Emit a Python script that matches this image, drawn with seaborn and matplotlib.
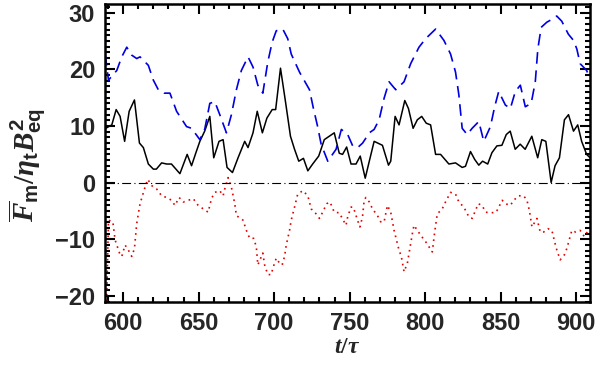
import numpy as np
import pandas as pd
import matplotlib
matplotlib.use("Agg")
import matplotlib.pyplot as plt
from matplotlib.ticker import MultipleLocator
import seaborn as sns

# black solid curve
t_black = [588.5, 592.5, 595.4, 598.0, 601.0, 604.0, 607.5, 610.8, 613.4, 616.7, 620.0, 622.0,
           625.5, 628.8, 632.0, 637.6, 642.4, 645.3, 648.2, 650.8, 654.0, 657.4, 660.0, 663.5,
           666.2, 668.8, 672.4, 676.1, 680.5, 682.7, 686.0, 688.8, 692.2, 695.2, 698.7, 701.0,
           704.2, 707.5, 710.8, 713.5, 716.3, 719.4, 722.3, 725.5, 729.5, 733.2, 739.8, 743.1,
           745.3, 748.0, 750.9, 754.2, 757.0, 760.3, 763.0, 766.2, 771.7, 775.7, 777.2, 780.1,
           782.7, 786.5, 788.9, 792.0, 794.8, 797.7, 800.7, 803.6, 806.9, 810.2, 815.7, 820.1,
           824.5, 826.7, 830.0, 832.8, 835.5, 838.0, 841.4, 844.2, 847.5, 850.8, 853.7, 856.3,
           859.6, 862.9, 866.2, 870.6, 874.5, 877.2, 879.9, 883.4, 886.0, 888.9, 892.2, 894.9,
           898.2, 901.0, 903.6, 906.9, 909.2]
f_black = [9.6, 10.2, 12.9, 11.7, 7.3, 12.6, 14.6, 7.0, 6.2, 3.3, 2.4, 2.4,
           3.5, 3.3, 3.3, 1.6, 5.0, 3.0, 5.3, 7.3, 9.1, 11.7, 4.4, 7.3,
           7.6, 2.7, 1.8, 4.4, 7.3, 6.2, 8.8, 12.6, 8.8, 11.4, 12.9, 12.9,
           20.2, 14.3, 8.2, 5.9, 3.8, 4.3, 2.1, 3.3, 4.7, 7.6, 8.8, 5.2,
           5.0, 6.3, 3.3, 3.3, 4.7, 0.8, 3.8, 7.3, 6.6, 3.1, 3.8, 11.7,
           10.2, 14.5, 13.1, 9.6, 11.1, 11.7, 10.5, 10.2, 5.0, 5.0, 3.3, 3.5,
           2.7, 2.9, 5.5, 4.1, 3.1, 3.8, 3.3, 5.3, 6.5, 6.6, 8.5, 9.1,
           5.9, 6.8, 5.9, 8.2, 4.4, 7.6, 7.3, 0.05, 3.0, 4.4, 11.1, 12.0,
           9.1, 10.2, 7.3, 5.0, 4.4]

# blue dashed curve
t_blue = [588.1, 590.3, 595.8, 599.1, 602.4, 605.7, 609.0, 611.2, 616.7, 620.0, 623.3, 627.0,
          631.0, 635.4, 642.0, 645.3, 650.8, 654.0, 657.4, 660.7, 664.0, 668.4, 671.7, 675.0,
          678.3, 682.7, 686.0, 689.2, 692.5, 695.8, 698.7, 701.4, 705.7, 709.0, 711.3, 716.8,
          723.4, 726.0, 728.8, 731.1, 735.5, 741.0, 744.5, 748.7, 752.0, 755.3, 758.6, 763.0,
          766.2, 769.5, 772.8, 776.1, 780.5, 786.0, 790.4, 795.9, 800.3, 806.9, 812.4, 816.8,
          820.1, 822.3, 824.5, 827.8, 831.1, 835.5, 838.8, 843.2, 846.0, 848.7, 853.1, 856.4,
          859.7, 863.0, 866.3, 870.2, 872.9, 874.6, 876.8, 880.5, 883.8, 887.1, 890.4, 894.8,
          898.2, 900.4, 902.6, 906.9, 909.0]
f_blue = [22.7, 18.1, 19.8, 22.2, 23.9, 22.5, 21.9, 22.2, 20.7, 18.1, 16.4, 15.8,
          15.8, 12.6, 9.9, 9.6, 7.6, 9.4, 14.0, 14.3, 12.0, 8.8, 12.0, 16.4,
          19.8, 22.2, 20.4, 17.2, 15.8, 21.3, 24.8, 26.8, 27.1, 25.4, 22.7, 19.5,
          16.4, 13.1, 9.9, 6.8, 3.8, 5.9, 9.4, 8.5, 6.5, 6.2, 7.0, 8.8,
          9.4, 11.1, 14.9, 17.8, 16.4, 17.8, 21.0, 23.9, 25.4, 27.1, 25.1, 22.7,
          19.5, 15.5, 9.6, 8.5, 9.6, 10.8, 7.3, 9.9, 13.4, 16.1, 13.7, 13.1,
          16.1, 17.2, 13.4, 14.0, 17.8, 23.6, 27.4, 28.3, 28.8, 29.4, 28.5, 26.2,
          25.1, 23.6, 21.0, 19.8, 18.4]

# red dotted curve
t_red = [588.8, 590.3, 593.2, 594.7, 597.6, 599.1, 601.3, 603.5, 605.7, 607.5, 609.0, 611.2,
         614.5, 616.3, 618.9, 622.2, 625.5, 628.8, 632.1, 634.3, 637.1, 639.8, 643.1, 646.4,
         649.7, 653.0, 656.3, 658.5, 660.7, 664.0, 666.2, 667.3, 669.5, 671.7, 673.9, 675.0,
         679.4, 681.6, 683.8, 686.4, 688.2, 689.2, 692.5, 693.7, 695.8, 698.1, 699.1, 701.4,
         703.6, 705.3, 706.9, 708.0, 710.2, 711.3, 713.5, 715.6, 719.0, 722.3, 724.5, 727.8,
         730.0, 732.1, 734.8, 737.0, 739.8, 743.1, 747.6, 748.7, 750.9, 752.4, 754.2, 755.2,
         756.8, 758.5, 759.6, 760.7, 763.0, 765.1, 768.4, 770.6, 772.8, 775.0, 777.2, 779.4,
         781.6, 782.7, 784.2, 786.0, 788.2, 790.0, 791.5, 792.6, 794.8, 797.7, 800.3, 802.5,
         804.7, 806.3, 808.0, 811.3, 814.0, 816.8, 820.1, 822.3, 825.6, 828.9, 831.1, 833.3,
         835.1, 837.7, 840.0, 843.9, 847.0, 848.7, 851.0, 853.2, 856.4, 858.6, 861.9, 865.2,
         867.4, 869.0, 870.7, 874.0, 876.2, 878.4, 881.2, 883.9, 885.7, 887.2, 889.4, 892.2,
         893.8, 897.1, 899.7, 902.6, 905.4, 908.0]
f_red = [-24.0, -6.6, -6.9, -10.1, -12.4, -13.0, -11.0, -11.9, -13.0, -11.6, -7.2, -3.7,
         -0.8, 0.6, -0.5, -1.1, -2.3, -2.6, -3.1, -4.0, -2.6, -3.4, -3.1, -2.8,
         -4.0, -4.6, -5.2, -2.8, -1.7, -1.4, -2.3, -1.1, 0.9, -0.8, -3.7, -5.8,
         -6.6, -8.4, -9.8, -9.8, -11.3, -14.5, -12.4, -14.5, -16.2, -16.2, -15.1, -13.3,
         -14.2, -14.5, -13.0, -11.0, -8.4, -6.6, -4.3, -2.0, -1.4, -2.3, -4.6, -5.5,
         -6.3, -5.2, -3.7, -3.4, -5.2, -5.3, -7.5, -6.0, -4.3, -4.3, -5.8, -6.6,
         -7.8, -6.0, -3.1, -2.6, -3.4, -4.6, -5.8, -6.9, -6.9, -4.0, -5.2, -8.4,
         -10.7, -11.9, -13.0, -15.7, -14.2, -11.3, -9.0, -7.5, -8.4, -9.5, -10.4, -11.3,
         -12.2, -8.7, -5.5, -4.6, -3.1, -1.7, -2.0, -3.4, -4.3, -6.0, -6.3, -4.9,
         -3.7, -4.0, -5.2, -5.3, -5.2, -4.3, -3.1, -3.7, -4.0, -3.1, -2.3, -2.3,
         -3.1, -4.9, -7.8, -6.3, -8.7, -8.7, -8.1, -8.4, -10.4, -11.9, -13.6, -12.7,
         -11.6, -8.4, -8.7, -8.4, -9.5, -8.4]

sns.set_style("ticks")
plt.rcParams['font.family'] = ['Liberation Sans', 'DejaVu Sans']
plt.rcParams['font.weight'] = 'bold'
plt.rcParams['mathtext.fontset'] = 'custom'
plt.rcParams['mathtext.it'] = 'Liberation Serif:italic:bold'
plt.rcParams['mathtext.rm'] = 'Liberation Serif:bold'
plt.rcParams['mathtext.sf'] = 'Liberation Sans:bold'

fig = plt.figure(figsize=(6, 3.74), dpi=100)
ax = fig.add_axes([0.175, 0.193, 0.808, 0.796])

df_black = pd.DataFrame({'t': t_black, 'f': f_black})
df_blue = pd.DataFrame({'t': t_blue, 'f': f_blue})
df_red = pd.DataFrame({'t': t_red, 'f': f_red})

sns.lineplot(data=df_black, x='t', y='f', color='black', lw=1.1, ax=ax)
sns.lineplot(data=df_blue, x='t', y='f', color='#0000e0', lw=1.2, ax=ax,
             linestyle=(0, (7, 4)))
sns.lineplot(data=df_red, x='t', y='f', color='#e00000', lw=1.2, ax=ax,
             linestyle=(0, (1, 2.5)))
ax.axhline(0, color='black', lw=0.8, linestyle=(0, (8, 3, 1, 3)))

ax.set_xlim(588, 909)
ax.set_ylim(-21, 31.5)
ax.xaxis.set_major_locator(MultipleLocator(50))
ax.xaxis.set_minor_locator(MultipleLocator(10))
ax.yaxis.set_major_locator(MultipleLocator(10))
ax.yaxis.set_minor_locator(MultipleLocator(1))
ax.tick_params(which='both', direction='in', top=True, right=True, width=1.5,
               labelsize=17, color='black')
ax.tick_params(which='major', length=7, pad=7)
ax.tick_params(which='minor', length=3.5)
for lab in ax.get_xticklabels() + ax.get_yticklabels():
    lab.set_fontweight('bold')
for sp in ax.spines.values():
    sp.set_linewidth(1.8)
    sp.set_color('black')

ax.set_xlabel(r'$t/\tau$', fontsize=17, labelpad=1)
ax.set_ylabel(r'$\overline{F}_{\mathsf{m}}/\eta_{\mathsf{t}}B^{\mathsf{2}}_{\mathsf{eq}}$',
              fontsize=21)
ax.yaxis.set_label_coords(-0.118, 0.46)

fig.savefig("out.png", dpi=100)
